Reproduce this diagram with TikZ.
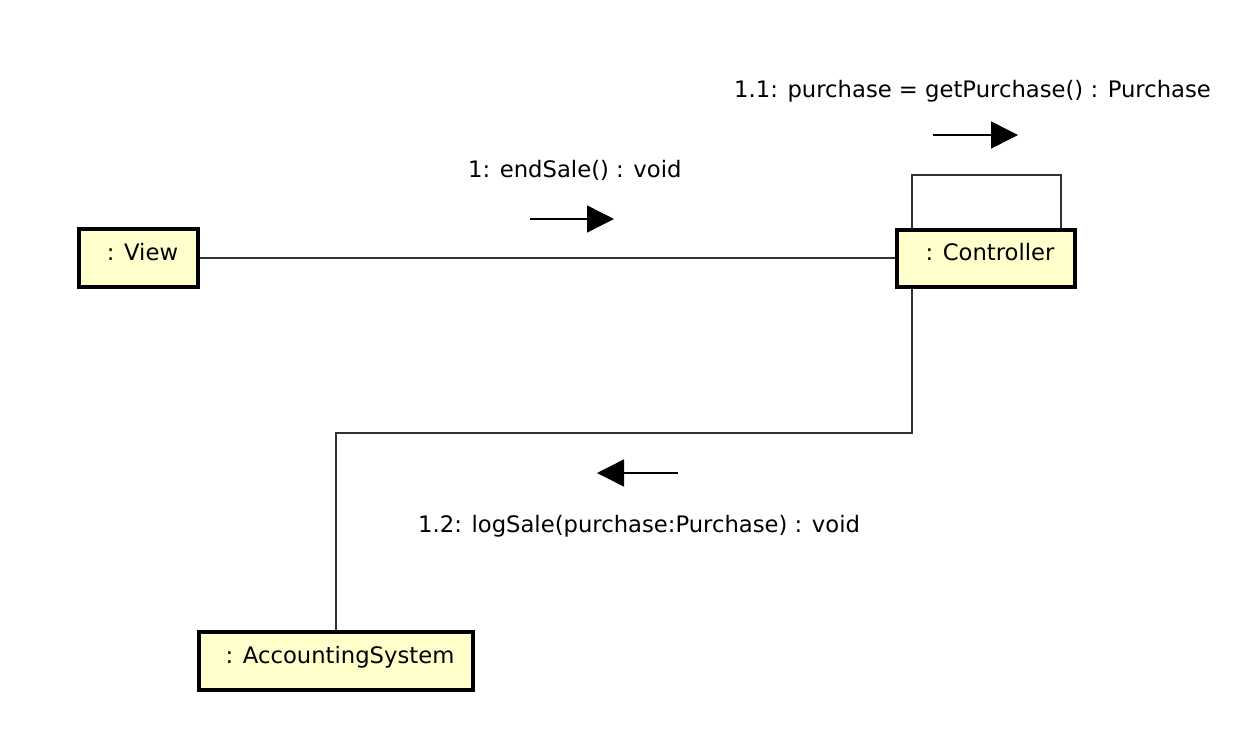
\documentclass[tikz,border=0pt]{standalone}
\usepackage{fontspec}
\setmainfont{DejaVu Sans}
\usetikzlibrary{arrows.meta,calc}
\definecolor{objfill}{RGB}{255,255,204}
\definecolor{linegray}{RGB}{50,50,50}
\begin{document}
\begin{tikzpicture}[x=1pt,y=-1pt,
  obj/.style={draw=black,line width=4pt,fill=objfill,rectangle,inner sep=0pt,
    text height=17pt,text depth=13pt,font=\fontsize{22.7}{26}\selectfont},
  link/.style={draw=linegray,line width=1.5pt},
  msg/.style={draw=black,line width=1.5pt,-{Triangle[length=27pt,width=27pt]}},
  msglabel/.style={anchor=base west,inner sep=0pt,font=\fontsize{22.7}{26}\selectfont}]
\useasboundingbox (0,0) rectangle (1254,742);
\node[obj,minimum width=119pt,minimum height=58pt] (view) at (138.5,258) {\hspace*{8pt}: View};
\node[obj,minimum width=178pt,minimum height=57pt] (controller) at (986,258.5) {\hspace*{8pt}: Controller};
\node[obj,minimum width=274pt,minimum height=58pt] (acct) at (336,661) {\hspace*{8pt}: AccountingSystem};
% links
\draw[link] (view.east) -- (view.east -| controller.west);
\draw[link] ($(controller.north west)+(17,0)$) -- ++(0,-53) -| ($(controller.north east)+(-16,0)$);
\draw[link] ($(controller.south west)+(17,0)$) -- ++(0,144) -| (acct.north);
% messages
\coordinate (m1s) at (530,219);
\coordinate (m1e) at (614,219);
\coordinate (m2s) at (933,135);
\coordinate (m2e) at (1018,135);
\coordinate (m3s) at (678,473);
\coordinate (m3e) at (597,473);
\draw[msg] (m1s) -- (m1e);
\draw[msg] (m2s) -- (m2e);
\draw[msg] (m3s) -- (m3e);
\node[msglabel] (l1) at (468,177) {1: endSale() : void};
\node[msglabel] (l2) at (734,97) {1.1: purchase = getPurchase() : Purchase};
\node[msglabel] (l3) at (418,532) {1.2: logSale(purchase:Purchase) : void};
\end{tikzpicture}
\end{document}
